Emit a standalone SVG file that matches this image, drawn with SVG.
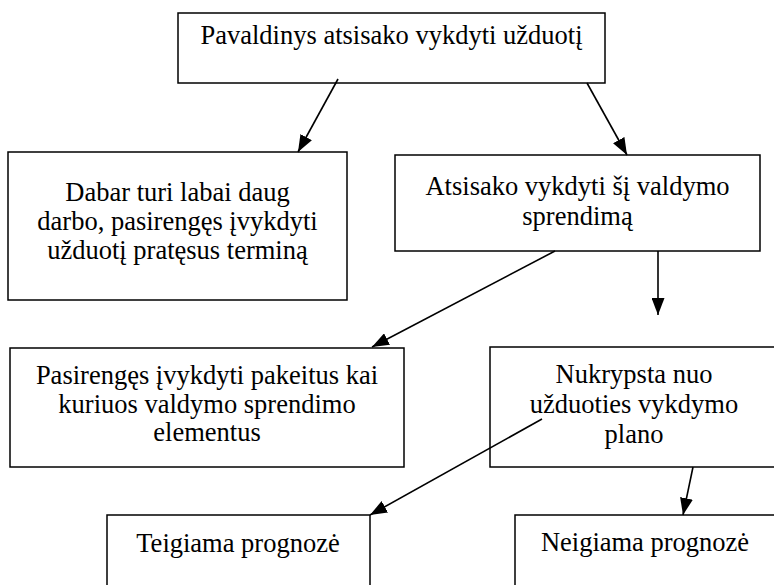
<svg xmlns="http://www.w3.org/2000/svg" width="774" height="585" viewBox="0 0 774 585">
<style>
.box{fill:#fff;stroke:#000;stroke-width:1.5}
.t{font-family:"Liberation Serif","Times New Roman",Times,"DejaVu Serif",serif;font-size:26.5px;fill:#000;text-anchor:middle}
.c{stroke:#000;stroke-width:1.6;fill:none;marker-end:url(#ah)}
</style>
<defs>
<marker id="ah" markerUnits="userSpaceOnUse" viewBox="0 0 17 13" refX="17" refY="6.5" markerWidth="17" markerHeight="13" orient="auto">
<path d="M0,0 L17,6.5 L0,13 z" fill="#000"/>
</marker>
</defs>
<rect width="774" height="585" fill="#fff"/>
<g id="n-top">
<rect class="box" x="178" y="13" width="427" height="70"/>
<text class="t" x="391.5" y="44">Pavaldinys atsisako vykdyti užduotį</text>
</g>
<g id="n-dabar">
<rect class="box" x="8" y="152" width="339" height="148"/>
<text class="t" x="177.5" y="201">Dabar turi labai daug</text>
<text class="t" x="177.5" y="230">darbo, pasirengęs įvykdyti</text>
<text class="t" x="177.5" y="259">užduotį pratęsus terminą</text>
</g>
<g id="n-atsisako">
<rect class="box" x="395" y="155" width="365" height="96"/>
<text class="t" x="577.5" y="195">Atsisako vykdyti šį valdymo</text>
<text class="t" x="577.5" y="225">sprendimą</text>
</g>
<g id="n-pasirenges">
<rect class="box" x="10" y="348" width="394" height="119"/>
<text class="t" x="207" y="384">Pasirengęs įvykdyti pakeitus kai</text>
<text class="t" x="207" y="413">kuriuos valdymo sprendimo</text>
<text class="t" x="207" y="441">elementus</text>
</g>
<g id="n-nukrypsta">
<rect class="box" x="490" y="347" width="288" height="120"/>
<text class="t" x="634" y="383">Nukrypsta nuo</text>
<text class="t" x="634" y="413">užduoties vykdymo</text>
<text class="t" x="634" y="443">plano</text>
</g>
<g id="n-teigiama">
<rect class="box" x="107" y="515" width="263" height="90"/>
<text class="t" x="238" y="552">Teigiama prognozė</text>
</g>
<g id="n-neigiama">
<rect class="box" x="515" y="515" width="262" height="90"/>
<text class="t" x="645" y="551">Neigiama prognozė</text>
</g>
<g id="connectors">
<line class="c" x1="338" y1="79" x2="298" y2="152"/>
<line class="c" x1="587" y1="83" x2="627" y2="155"/>
<line class="c" x1="555" y1="251" x2="372" y2="347"/>
<line class="c" x1="658" y1="251" x2="658" y2="315"/>
<line class="c" x1="542" y1="419" x2="370" y2="515"/>
<line class="c" x1="693" y1="467" x2="683" y2="515"/>
</g>
</svg>
